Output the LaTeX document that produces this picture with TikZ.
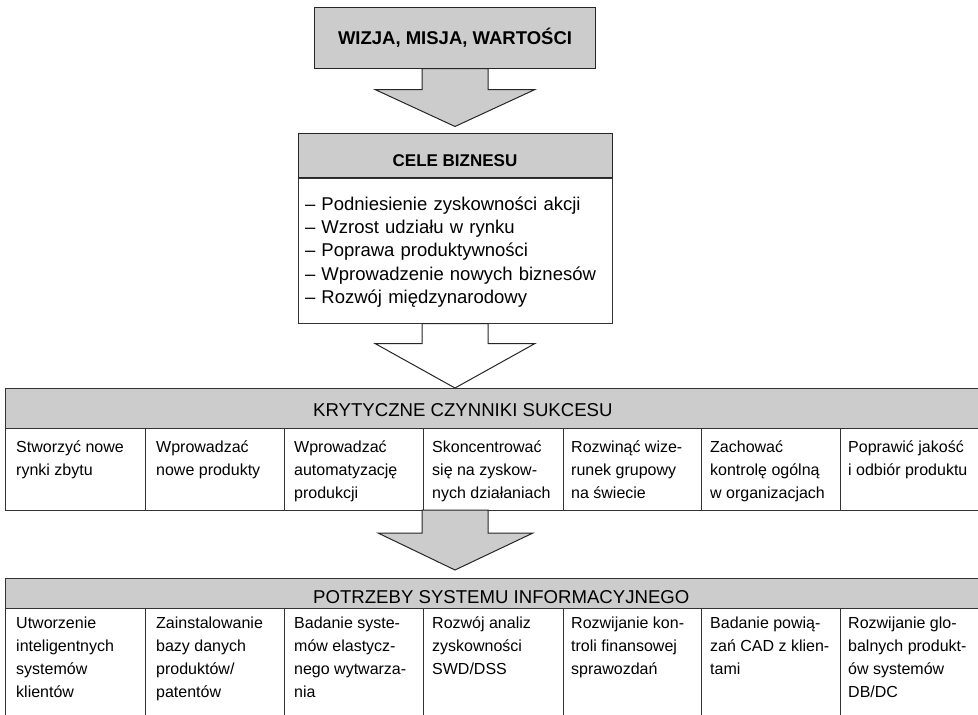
\documentclass[tikz,border=0pt]{standalone}
\usepackage{fontspec}
\setmainfont{Liberation Sans}
\usetikzlibrary{calc}

\definecolor{bandgray}{gray}{0.8}
\newcommand{\titlefont}{\fontsize{18.5}{22}\selectfont\bfseries}
\newcommand{\celefont}{\fontsize{17}{20}\selectfont\bfseries}
\newcommand{\listfont}{\fontsize{18.5}{23.3}\selectfont}
\newcommand{\headfont}{\fontsize{18.6}{22}\selectfont}
\newcommand{\cellfont}{\fontsize{16}{23}\selectfont}

\tikzset{
  box/.style={draw=black!85, line width=1pt, fill=bandgray},
  band/.style={draw=black!80, line width=1pt, fill=bandgray},
  rule/.style={draw=black!80, line width=1pt},
  blockarrow/.style={draw=black!85, line width=1pt, fill=bandgray},
  cell/.style={anchor=north west, inner sep=0pt, align=left, font=\cellfont,
    execute at begin node=\strut},
}

\begin{document}
\begin{tikzpicture}[x=1pt,y=-1pt]
\clip (0,0) rectangle (978,715);

% top boxes
\node[box, minimum width=281, minimum height=61, font=\titlefont,
  text height=13, text depth=0] (wizja) at (455,37.5) {WIZJA, MISJA, WARTOŚCI};
\node[box, minimum width=314, minimum height=44, font=\celefont,
  text height=22, text depth=0] (celehead) at (455,155) {CELE BIZNESU};
\node[rule, fill=white, anchor=north, minimum width=314, minimum height=145,
  text width=300, inner xsep=7, align=left, font=\listfont,
  execute at begin node=\strut] (celebody) at (celehead.south)
  {– Podniesienie zyskowności akcji\\
   – Wzrost udziału w rynku\\
   – Poprawa produktywności\\
   – Wprowadzenie nowych biznesów\\
   – Rozwój międzynarodowy};

% krytyczne czynniki sukcesu
\filldraw[band] (5,388) rectangle (990,428);
\draw[rule] (5,428) rectangle (990,510);
\draw[rule] (145,428) -- (145,510) (284,428) -- (284,510) (423,428) -- (423,510)
  (563,428) -- (563,510) (701,428) -- (701,510) (840,428) -- (840,510);
\node[anchor=base west, inner sep=0pt, font=\headfont] (kcs) at (313,416.5)
  {KRYTYCZNE CZYNNIKI SUKCESU};
\coordinate (kcstop) at (455,388);
\coordinate (kcsbot) at (455,510);

\node[cell] (k1) at (16,441) {Stworzyć nowe\\rynki zbytu};
\node[cell] (k2) at (156,441) {Wprowadzać\\nowe produkty};
\node[cell] (k3) at (294,441) {Wprowadzać\\automatyzację\\produkcji};
\node[cell] (k4) at (432,441) {Skoncentrować\\się na zyskow-\\nych działaniach};
\node[cell] (k5) at (571,441) {Rozwinąć wize-\\runek grupowy\\na świecie};
\node[cell] (k6) at (710,441) {Zachować\\kontrolę ogólną\\w organizacjach};
\node[cell] (k7) at (848,441) {Poprawić jakość\\i odbiór produktu};

% potrzeby systemu informacyjnego
\filldraw[band] (5,578) rectangle (990,608);
\draw[rule] (5,608) rectangle (990,730);
\draw[rule] (145,608) -- (145,730) (284,608) -- (284,730) (423,608) -- (423,730)
  (563,608) -- (563,730) (701,608) -- (701,730) (840,608) -- (840,730);
\node[anchor=base west, inner sep=0pt, font=\headfont] (psi) at (313,603.5)
  {POTRZEBY SYSTEMU INFORMACYJNEGO};
\coordinate (pottop) at (455,578);

\node[cell] (p1) at (16,617) {Utworzenie\\inteligentnych\\systemów\\klientów};
\node[cell] (p2) at (156,617) {Zainstalowanie\\bazy danych\\produktów/\\patentów};
\node[cell] (p3) at (294,617) {Badanie syste-\\mów elastycz-\\nego wytwarza-\\nia};
\node[cell] (p4) at (432,617) {Rozwój analiz\\zyskowności\\SWD/DSS};
\node[cell] (p5) at (571,617) {Rozwijanie kon-\\troli finansowej\\sprawozdań};
\node[cell] (p6) at (710,617) {Badanie powią-\\zań CAD z klien-\\tami};
\node[cell] (p7) at (848,617) {Rozwijanie glo-\\balnych produkt-\\ów systemów\\DB/DC};

% block arrows
\filldraw[blockarrow] ($(wizja.south)+(-33,0)$) -- ++(0,21) -- ++(-47,0)
  -- ($(celehead.north)+(0,-6)$) -- ($(wizja.south)+(80,21)$) -- ++(-47,0)
  -- ($(wizja.south)+(33,0)$) -- cycle;
\filldraw[blockarrow, fill=white] ($(celebody.south)+(-33,0)$) -- ++(0,20) -- ++(-47,0)
  -- (kcstop) -- ($(celebody.south)+(80,20)$) -- ++(-47,0)
  -- ($(celebody.south)+(33,0)$) -- cycle;
\filldraw[blockarrow] ($(kcsbot)+(-33,0)$) -- ++(0,23) -- ++(-44,0)
  -- ($(pottop)+(0,-8)$) -- ($(kcsbot)+(78,23)$) -- ++(-45,0)
  -- ($(kcsbot)+(33,0)$) -- cycle;
\end{tikzpicture}
\end{document}
